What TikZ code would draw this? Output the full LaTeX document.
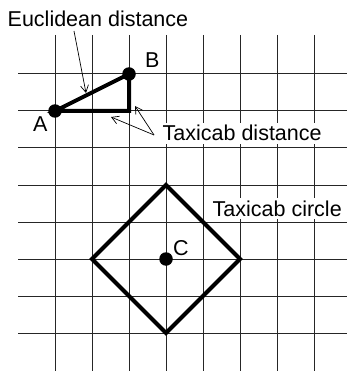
\documentclass[tikz,border=0pt]{standalone}
\usepackage{fontspec}
\setmainfont{Liberation Sans}
\usetikzlibrary{arrows.meta}
\begin{document}
\begin{tikzpicture}[x=1pt,y=-1pt,
  gridline/.style={draw=black!85,line width=1pt},
  thick line/.style={draw=black,line width=4pt,line join=miter},
  dot/.style={circle,fill=black,inner sep=0pt,minimum size=13.5pt},
  lbl/.style={font=\fontsize{21.5}{24}\selectfont,inner sep=0pt,anchor=base west},
  boxlbl/.style={font=\fontsize{21.5}{24}\selectfont,inner sep=2.5pt,anchor=base west,fill=white},
  pointer/.style={draw=black,line width=0.7pt,-{Straight Barb[length=7pt,width=8pt,line width=0.7pt]}}]
\useasboundingbox (0,0) rectangle (347,371);
% grid
\foreach \k in {0,...,7}{
  \draw[gridline] (55+37*\k,35) -- (55+37*\k,371);
  \draw[gridline] (18,74+37*\k) -- (347,74+37*\k);
}
% points
\coordinate (pA) at (55,111);
\coordinate (pB) at (129,74);
\coordinate (pR) at (129,111);
\coordinate (pC) at (166,259);
\coordinate (dT) at (166,185);
\coordinate (dR) at (240,259);
\coordinate (dB) at (166,333);
\coordinate (dL) at (92,259);
% shapes
\draw[thick line] (pA) -- (pB) -- (pR) -- cycle;
\draw[thick line] (dT) -- (dR) -- (dB) -- (dL) -- cycle;
\node[dot] (A) at (pA) {};
\node[dot] (B) at (pB) {};
\node[dot] (C) at (pC) {};
% labels
\node[lbl] (la) at (33,132) {A};
\node[lbl] (lb) at (145,68) {B};
\node[lbl] (lc) at (173,255) {C};
\node[boxlbl] (eu) at (5,27) {Euclidean distance};
\node[boxlbl] (td) at (160,141) {Taxicab distance};
\node[boxlbl] (tc) at (210,216) {Taxicab circle};
% pointers
\coordinate (eu0) at (74,31);
\coordinate (eu1) at (86,93);
\coordinate (td0) at (154,135);
\coordinate (td1) at (111,117);
\coordinate (td2) at (135,106);
\draw[pointer] (eu0) -- (eu1);
\draw[pointer] (td0) -- (td1);
\draw[pointer] (td0) -- (td2);
\end{tikzpicture}
\end{document}
